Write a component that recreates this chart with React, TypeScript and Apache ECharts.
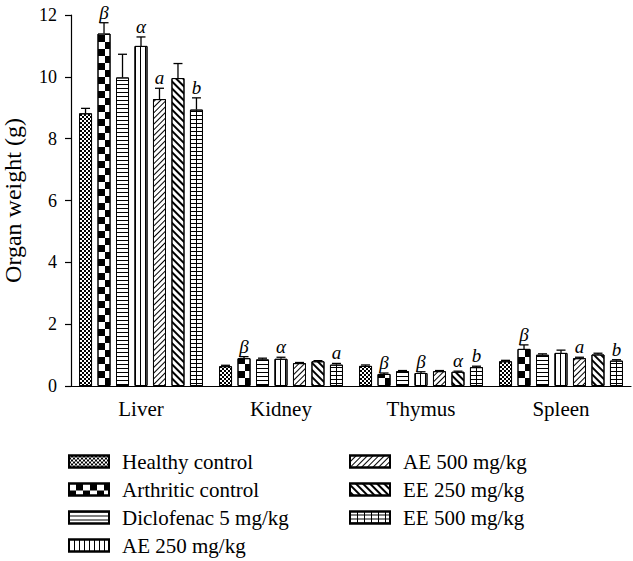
import React, { useEffect, useRef } from "react";
import * as echarts from "echarts";

const categories = ["Liver", "Kidney", "Thymus", "Spleen"];
const seriesNames = [
  "Healthy control",
  "Arthritic control",
  "Diclofenac 5 mg/kg",
  "AE 250 mg/kg",
  "AE 500 mg/kg",
  "EE 250 mg/kg",
  "EE 500 mg/kg",
];

const healthy = [8.82, 0.64, 0.65, 0.8];
const arthritic = [11.4, 0.9, 0.39, 1.2];
const diclofenac = [9.98, 0.86, 0.48, 1.01];
const ae250 = [11.0, 0.88, 0.42, 1.07];
const ae500 = [9.28, 0.74, 0.48, 0.9];
const ee250 = [9.96, 0.8, 0.46, 1.02];
const ee500 = [8.94, 0.69, 0.61, 0.82];

const healthyErr = [0.16, 0.03, 0.03, 0.03];
const arthriticErr = [0.35, 0.05, 0.03, 0.13];
const diclofenacErr = [0.75, 0.04, 0.02, 0.03];
const ae250Err = [0.29, 0.05, 0.04, 0.09];
const ae500Err = [0.35, 0.02, 0.02, 0.03];
const ee250Err = [0.47, 0.02, 0.02, 0.04];
const ee500Err = [0.38, 0.04, 0.03, 0.03];

const healthyMark = ["", "", "", ""];
const arthriticMark = ["β", "β", "β", "β"];
const diclofenacMark = ["", "", "", ""];
const ae250Mark = ["α", "α", "β", ""];
const ae500Mark = ["a", "", "", "a"];
const ee250Mark = ["", "", "α", ""];
const ee500Mark = ["b", "a", "b", "b"];

const values = [healthy, arthritic, diclofenac, ae250, ae500, ee250, ee500];
const errors = [healthyErr, arthriticErr, diclofenacErr, ae250Err, ae500Err, ee250Err, ee500Err];
const marks = [healthyMark, arthriticMark, diclofenacMark, ae250Mark, ae500Mark, ee250Mark, ee500Mark];

const FONT = '"Liberation Serif", "DejaVu Serif", serif';
const BAR_W = 0.093;
const BAR_GAP = 0.42;

const decals: any[] = [
  { symbol: "rect", symbolSize: 1, dashArrayX: [[2, 2], [0, 2, 2, 0]], dashArrayY: [2, 0], color: "#000" },
  { symbol: "rect", symbolSize: 1, dashArrayX: [[6.5, 6.5], [0, 6.5, 6.5, 0]], dashArrayY: [6.5, 0], color: "#000" },
  { symbol: "rect", symbolSize: 1, dashArrayX: [1, 0], dashArrayY: [1, 3], color: "#000" },
  { symbol: "rect", symbolSize: 1, dashArrayX: [1, 3.3], dashArrayY: [1, 0], color: "#000" },
  { symbol: "rect", symbolSize: 1, dashArrayX: [1, 0], dashArrayY: [1, 2.5], rotation: -Math.PI / 4, color: "#000" },
  { symbol: "rect", symbolSize: 1, dashArrayX: [1, 0], dashArrayY: [2, 2.5], rotation: Math.PI / 4, color: "#000" },
  {
    symbol: "rect",
    symbolSize: 1,
    dashArrayX: [[1, 0], [1, 5.5], [1, 5.5], [1, 5.5]],
    dashArrayY: [1, 0],
    color: "#000",
  },
];

const legendBase = {
  orient: "vertical",
  top: 451,
  padding: 0,
  icon: "rect",
  itemWidth: 40,
  itemHeight: 12,
  itemGap: 7,
  textStyle: { fontFamily: FONT, fontSize: 21, color: "#000", padding: [0, 0, 0, 8] },
  selectedMode: false,
};

export default function App() {
  const ref = useRef<HTMLDivElement>(null);
  useEffect(() => {
    if (!ref.current) return;
    const chart = echarts.init(ref.current, null, { renderer: "svg" });

    const errData: any[] = [];
    values.forEach((vals, si) => {
      vals.forEach((v, ci) => {
        errData.push({ value: [si, ci, v, errors[si][ci]], mark: marks[si][ci] });
      });
    });

    const barSeries = values.map((vals, si) => ({
      name: seriesNames[si],
      type: "bar",
      data: vals,
      barWidth: (BAR_W * 100).toFixed(2) + "%",
      barGap: BAR_GAP * 100 + "%",
      itemStyle: { color: "#fff", borderColor: "#000", borderWidth: 1, decal: decals[si] },
      emphasis: { disabled: true },
    }));

    const n = values.length;

    chart.setOption({
      animation: false,
      grid: { left: 71, right: 2, top: 15, bottom: 175, containLabel: false, outerBoundsMode: "none" },
      legend: [
        { ...legendBase, data: seriesNames.slice(0, 4), left: 68 },
        { ...legendBase, data: seriesNames.slice(4), left: 349 },
      ],
      xAxis: {
        type: "category",
        data: categories,
        axisLine: { lineStyle: { color: "#000", width: 1.2 } },
        axisTick: { alignWithLabel: true, length: 7, lineStyle: { color: "#000", width: 1.2 } },
        axisLabel: { fontFamily: FONT, fontSize: 21, color: "#000", margin: 12 },
      },
      yAxis: {
        type: "value",
        min: 0,
        max: 12,
        interval: 2,
        name: "Organ weight (g)",
        nameLocation: "middle",
        nameGap: 46,
        nameMoveOverlap: false,
        nameTextStyle: { fontFamily: FONT, fontSize: 24, color: "#000" },
        axisLine: { show: true, lineStyle: { color: "#000", width: 1.2 } },
        axisTick: { show: true, length: 6, lineStyle: { color: "#000", width: 1.2 } },
        axisLabel: { fontFamily: FONT, fontSize: 18, color: "#000", margin: 14 },
        splitLine: { show: false },
      },
      series: [
        ...barSeries,
        {
          type: "custom",
          z: 10,
          encode: { x: 1, y: 2 },
          data: errData,
          renderItem: (params: any, api: any) => {
            const si = api.value(0);
            const ci = api.value(1);
            const v = api.value(2);
            const e = api.value(3);
            const mark = errData[params.dataIndex].mark;
            const base = api.coord([ci, v]);
            const top = api.coord([ci, v + e]);
            const band = api.size([1, 0])[0];
            const bw = band * BAR_W;
            const total = n * bw + (n - 1) * bw * BAR_GAP;
            const x = base[0] - total / 2 + si * bw * (1 + BAR_GAP) + bw / 2;
            const cap = 4.5;
            const children: any[] = [
              { type: "line", shape: { x1: x, y1: base[1], x2: x, y2: top[1] }, style: { stroke: "#000", lineWidth: 1.3 } },
              { type: "line", shape: { x1: x - cap, y1: top[1], x2: x + cap, y2: top[1] }, style: { stroke: "#000", lineWidth: 1.3 } },
            ];
            if (mark) {
              children.push({
                type: "text",
                style: {
                  text: mark,
                  x: x,
                  y: top[1] - 1,
                  align: "center",
                  verticalAlign: "bottom",
                  font: `italic 19px ${FONT}`,
                  fill: "#000",
                },
              });
            }
            return { type: "group", children };
          },
        },
      ],
    });
    return () => chart.dispose();
  }, []);
  return <div ref={ref} style={{ position: "absolute", left: 0, top: 0, width: 633, height: 561 }} />;
}
